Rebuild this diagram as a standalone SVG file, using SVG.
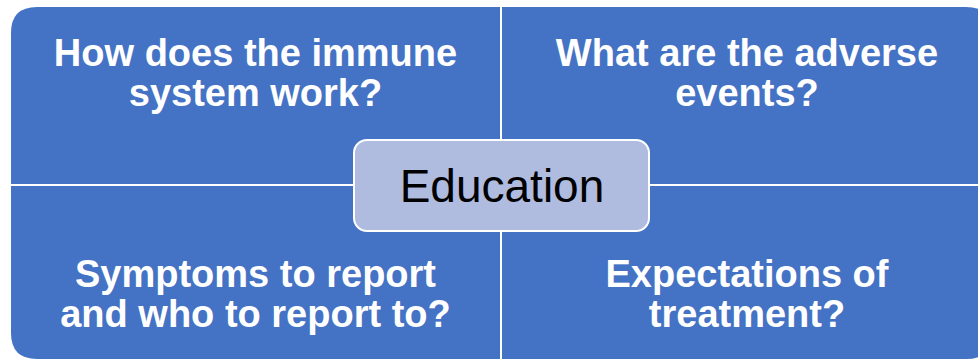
<svg xmlns="http://www.w3.org/2000/svg" width="978" height="360" viewBox="0 0 978 360">
<style>
.q{fill:#4472C4;}
.qt{font-family:"Liberation Sans",Arial,sans-serif;font-weight:bold;font-size:38px;fill:#FFFFFF;text-anchor:middle;}
.c{fill:#AFBCDF;stroke:#FFFFFF;stroke-width:2;}
.ct{font-family:"Liberation Sans",Arial,sans-serif;font-size:46px;fill:#000000;text-anchor:middle;}
</style>
<rect width="978" height="360" fill="#FFFFFF"/>
<g id="q-immune">
<path class="q" d="M11,33 Q11,7 37,7 L500,7 L500,184 L11,184 Z"/>
<text class="qt" x="255.5" y="66">How does the immune</text>
<text class="qt" x="255.5" y="106">system work?</text>
</g>
<g id="q-adverse">
<path class="q" d="M502,7 L966,7 Q992,7 992,33 L992,184 L502,184 Z"/>
<text class="qt" x="747" y="66">What are the adverse</text>
<text class="qt" x="747" y="106">events?</text>
</g>
<g id="q-symptoms">
<path class="q" d="M11,186 L500,186 L500,359 L37,359 Q11,359 11,333 Z"/>
<text class="qt" x="255.5" y="287">Symptoms to report</text>
<text class="qt" x="255.5" y="327">and who to report to?</text>
</g>
<g id="q-expectations">
<path class="q" d="M502,186 L992,186 L992,333 Q992,359 966,359 L502,359 Z"/>
<text class="qt" x="747" y="287">Expectations of</text>
<text class="qt" x="747" y="327">treatment?</text>
</g>
<g id="connectors"></g>
<g id="education">
<rect class="c" x="354" y="140" width="295" height="91" rx="13" ry="13"/>
<text class="ct" x="502" y="202">Education</text>
</g>
</svg>
